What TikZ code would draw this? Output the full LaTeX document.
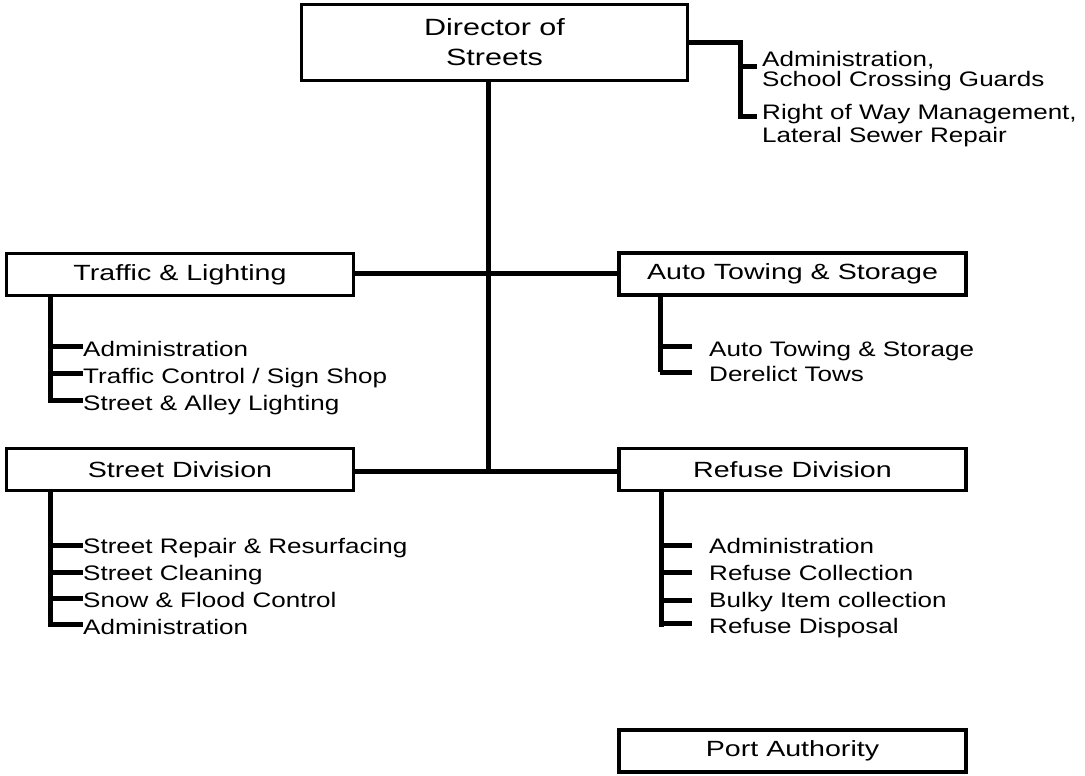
\documentclass[tikz,border=0pt]{standalone}
\usepackage{fontspec}
\setmainfont{Liberation Sans}
\newfontfamily\orgBoxFont[FakeStretch=1.3]{Liberation Sans}
\newfontfamily\orgItemFont[FakeStretch=1.24]{Liberation Sans}
\usetikzlibrary{positioning, calc}
\tikzset{
  orgbox/.style={
    draw=black,
    line width=3.2pt,
    fill=white,
    align=center,
    inner sep=0pt,
    font=\orgBoxFont\fontsize{22}{29}\selectfont,
  },
  % side boxes all share one size
  deptbox/.style={orgbox, minimum width=347pt, minimum height=42pt},
  orgitem/.style={
    anchor=base west,
    inner sep=0pt,
    align=left,
    font=\orgItemFont\fontsize{21}{26}\selectfont,
  },
  orgline/.style={line width=5pt, draw=black},
  orgtick/.style={orgline, shorten >=17pt},
}

\begin{document}
\begin{tikzpicture}[x=1pt, y=-1pt]
  \useasboundingbox (0,0) rectangle (1085,776);

  \node[orgbox, minimum width=386pt, minimum height=76pt,
    font=\orgBoxFont\fontsize{23.5}{30}\selectfont] (director) at (494.5,42.5)
    {Director of\\Streets};

  \node[deptbox] (traffic) at (180,274.5) {Traffic \& Lighting};
  \node[deptbox] (towing) at (792.5,274) {Auto Towing \& Storage};
  \node[deptbox] (street) at (180,469.5) {Street Division};
  \node[deptbox] (refuse) at (792.5,469.5) {Refuse Division};
  \node[deptbox] (port) at (792.5,751) {Port Authority};

  % --- items under the director (base = last line) ---
  \node[orgitem, font=\orgItemFont\fontsize{21}{20}\selectfont] (dirAdmin) at (762,86)
    {Administration,\\School Crossing Guards};
  \node[orgitem, font=\orgItemFont\fontsize{21}{22}\selectfont] (dirWay) at (762,142)
    {Right of Way Management,\\Lateral Sewer Repair};

  % --- items under the divisions ---
  \node[orgitem] (tlAdmin) at (83,356) {Administration};
  \node[orgitem] (tlSign) at (83,383) {Traffic Control / Sign Shop};
  \node[orgitem] (tlAlley) at (83,410) {Street \& Alley Lighting};

  \node[orgitem] (atStorage) at (709,356) {Auto Towing \& Storage};
  \node[orgitem] (atDerelict) at (709,381) {Derelict Tows};

  \node[orgitem] (sdRepair) at (83,553) {Street Repair \& Resurfacing};
  \node[orgitem] (sdCleaning) at (83,580) {Street Cleaning};
  \node[orgitem] (sdSnow) at (83,607) {Snow \& Flood Control};
  \node[orgitem] (sdAdmin) at (83,634) {Administration};

  \node[orgitem] (rdAdmin) at (709,553) {Administration};
  \node[orgitem] (rdCollect) at (709,580) {Refuse Collection};
  \node[orgitem] (rdBulky) at (709,607) {Bulky Item collection};
  \node[orgitem] (rdDisposal) at (709,633) {Refuse Disposal};

  % --- connectors ---
  \coordinate (hubTop) at (488,273);
  \coordinate (hubLow) at (488,471);
  \draw[orgline] (director.south -| hubTop) -- (hubLow);
  \draw[orgline] (traffic.east |- hubTop) -- (towing.west |- hubTop);
  \draw[orgline] (street.east |- hubLow) -- (refuse.west |- hubLow);

  \coordinate (dirTickA) at (740,67);
  \coordinate (dirTickB) at (740,116);
  \draw[orgline] (director.east) -| (dirTickB) -- ($(dirTickB -| dirWay.west)+(-5,0)$);
  \draw[orgline] (dirTickA) -- ($(dirTickA -| dirAdmin.west)+(-5,0)$);

  \coordinate (tlTickA) at (50,346);
  \coordinate (tlTickB) at (50,373);
  \coordinate (tlTickC) at (50,400);
  \draw[orgline] (traffic.south -| tlTickA) -- (tlTickC) -- (tlTickC -| tlAlley.west);
  \draw[orgline] (tlTickA) -- (tlTickA -| tlAdmin.west);
  \draw[orgline] (tlTickB) -- (tlTickB -| tlSign.west);

  \coordinate (atTickA) at (660,346);
  \coordinate (atTickB) at (660,372);
  \draw[orgline] (towing.south -| atTickA) -- (atTickB);
  \draw[orgtick] (atTickA) -- (atTickA -| atStorage.west);
  \draw[orgtick] (atTickB) -- (atTickB -| atDerelict.west);

  \coordinate (sdTickA) at (50,545);
  \coordinate (sdTickB) at (50,572);
  \coordinate (sdTickC) at (50,598);
  \coordinate (sdTickD) at (50,624);
  \draw[orgline] (street.south -| sdTickA) -- (sdTickD) -- (sdTickD -| sdAdmin.west);
  \draw[orgline] (sdTickA) -- (sdTickA -| sdRepair.west);
  \draw[orgline] (sdTickB) -- (sdTickB -| sdCleaning.west);
  \draw[orgline] (sdTickC) -- (sdTickC -| sdSnow.west);

  \coordinate (rdTickA) at (661,545);
  \coordinate (rdTickB) at (661,572);
  \coordinate (rdTickC) at (661,600);
  \coordinate (rdTickD) at (661,623);
  \draw[orgline] (refuse.south -| rdTickA) -- ($(rdTickD)+(0,4)$);
  \draw[orgtick] (rdTickA) -- (rdTickA -| rdAdmin.west);
  \draw[orgtick] (rdTickB) -- (rdTickB -| rdCollect.west);
  \draw[orgtick] (rdTickC) -- (rdTickC -| rdBulky.west);
  \draw[orgtick] (rdTickD) -- (rdTickD -| rdDisposal.west);
\end{tikzpicture}
\end{document}
